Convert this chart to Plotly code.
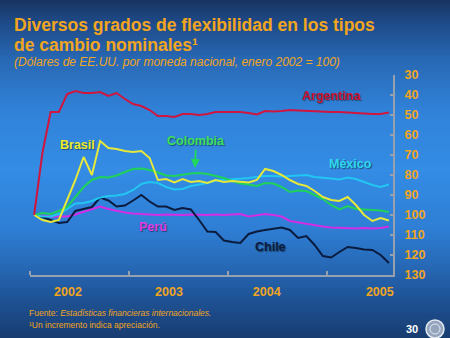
import plotly.graph_objects as go

# ---------------- data (monthly, Jan 2002 - Aug 2005, index Jan 2002 = 100) ----------------
months = [f"{y}-{m:02d}" for y in range(2002, 2006) for m in range(1, 13)][:44]

argentina = [100, 69, 48.5, 48.5, 39.5, 38, 39, 39, 38.5, 40.5,
             39, 42, 44.5, 45.5, 47.5, 50.5, 50.5, 51, 49.5, 49.5,
             50, 49.5, 48.5, 48.5, 48.5, 48.5, 49, 49.75, 48, 48.25,
             48, 47.5, 47.75, 48, 48, 48.25, 48.5, 48.5, 48.75, 49,
             49.5, 49.5, 49.5, 48.75]
brasil = [100, 102.5, 103.5, 102.5, 92.5, 82.5, 71, 80, 63, 66.5,
          67, 68, 68.5, 68, 71.5, 82.5, 82, 83.75, 82, 83.5,
          83, 84, 82.5, 83.5, 83, 83.5, 83.75, 82.5, 77, 78,
          80, 82.5, 84.5, 85.5, 88, 91, 92.5, 93, 91, 95,
          100, 103, 101.5, 102.75]
colombia = [100, 99, 99.5, 98, 96, 91, 86, 82.5, 81, 81.25,
            80.25, 78.5, 77, 76.75, 77.5, 78.75, 80.25, 80.5, 79.75, 79.25,
            79, 79.5, 80.5, 81.5, 83, 84.25, 84.75, 85.5, 84, 84.25,
            86, 88.5, 87.75, 88, 90, 92, 95, 97.25, 95.5, 97,
            97.25, 97.5, 97.75, 98.5]
mexico = [100, 100.75, 100.75, 99.5, 97, 94.25, 94, 93, 91.25, 90.5,
          90.25, 89.5, 87.5, 84.5, 83.5, 84, 86, 87.25, 87, 85.5,
          84.75, 84, 82.75, 82.5, 82, 82, 81.5, 81, 80.5, 80.5,
          80.75, 80.5, 80.25, 80, 81, 81.25, 81.75, 82.25, 81.25, 82,
          83.5, 85, 86, 84.75]
chile = [100, 101, 102.5, 104, 103.5, 98, 97, 96, 91.25, 92.75,
         95.75, 95.25, 92.75, 90, 93.25, 95.75, 95.75, 97.5, 96.5, 97.25,
         102.5, 108.25, 108.5, 112.75, 113.5, 114, 109.5, 108.25, 107.5, 106.75,
         106.25, 107.5, 111.5, 110.5, 115, 120.5, 121.25, 118.5, 116, 116.5,
         117.25, 117.5, 120, 124]
peru = [100, 100.5, 100.75, 100.75, 100.75, 99.75, 98.5, 97, 95.75, 97,
        98, 98.75, 99.25, 99.5, 99.75, 100, 99.75, 100, 100, 99.75,
        100, 100, 99.75, 100, 99.75, 99.5, 100.75, 100, 99.5, 100,
        100.75, 103, 103.75, 104.5, 105, 105.75, 106.25, 106.5, 106.75, 106.75,
        106.5, 106.75, 106.5, 105.75]

year_labels = ["2002", "2003", "2004", "2005"]
y_ticks = [30, 40, 50, 60, 70, 80, 90, 100, 110, 120, 130]

# ---------------- helpers ----------------
def month_pos(label):
    y, m = label.split("-")
    return (int(y) - 2002) * 12 + int(m) - 1 + 0.5

x = [month_pos(m) for m in months]

ORANGE = "#F2A51E"
FONT = "Liberation Sans, Arial, sans-serif"
W, H = 450, 338
ML, MR, MT, MB = 30, 57, 75, 63
PW, PH = W - ML - MR, H - MT - MB

def px_to_paper_x(px):
    return (px - ML) / PW

def px_to_paper_y(py):
    return (H - MB - py) / PH

fig = go.Figure()

series = [
    ("Perú", peru, "#D22EE6"),
    ("Chile", chile, "#0B1B3E"),
    ("México", mexico, "#22C6F2"),
    ("Colombia", colombia, "#1ED25A"),
    ("Brasil", brasil, "#E6E83A"),
    ("Argentina", argentina, "#D0163E"),
]
for name, vals, col in series:
    fig.add_trace(go.Scatter(x=x, y=vals, mode="lines", name=name,
                             line=dict(color=col, width=2), showlegend=False,
                             hoverinfo="skip"))

# ---------------- background gradient ----------------
stops = [(0, (24, 52, 96)), (20, (30, 72, 132)), (60, (40, 104, 180)),
         (110, (48, 130, 216)), (170, (52, 140, 228)), (230, (46, 126, 212)),
         (270, (38, 102, 178)), (300, (30, 82, 148)), (338, (24, 60, 112))]

def grad(py):
    for (a, ca), (b, cb) in zip(stops[:-1], stops[1:]):
        if a <= py <= b:
            t = (py - a) / (b - a)
            return tuple(int(round(ca[i] + (cb[i] - ca[i]) * t)) for i in range(3))
    return stops[-1][1]

shapes = []
step = 2
for py in range(0, H, step):
    c = grad(py + step / 2)
    shapes.append(dict(type="rect", xref="paper", yref="paper", layer="below",
                       x0=px_to_paper_x(-2), x1=px_to_paper_x(W + 2),
                       y0=px_to_paper_y(py + step + 0.6), y1=px_to_paper_y(py),
                       fillcolor=f"rgb{c}", line=dict(width=0)))
# IMF seal (approximation)
shapes.append(dict(type="circle", xref="paper", yref="paper", layer="above",
                   x0=px_to_paper_x(426), x1=px_to_paper_x(444),
                   y0=px_to_paper_y(338), y1=px_to_paper_y(320),
                   fillcolor="rgb(150,165,190)", line=dict(color="rgb(225,232,240)", width=1.5)))
shapes.append(dict(type="circle", xref="paper", yref="paper", layer="above",
                   x0=px_to_paper_x(430), x1=px_to_paper_x(440),
                   y0=px_to_paper_y(334), y1=px_to_paper_y(324),
                   fillcolor="rgba(0,0,0,0)", line=dict(color="rgb(225,232,240)", width=1)))

annotations = []
def txt(text, px, py, size, color, bold=False, italic=False, xanchor="left"):
    annotations.append(dict(text=text, xref="paper", yref="paper",
                            x=px_to_paper_x(px), y=px_to_paper_y(py),
                            xanchor=xanchor, yanchor="middle", showarrow=False,
                            font=dict(family=FONT, size=size, color=color,
                                      weight="bold" if bold else "normal",
                                      style="italic" if italic else "normal")))

txt("Diversos grados de flexibilidad en los tipos", 12, 25.5, 17.5, ORANGE, bold=True)
txt("de cambio nominales¹", 12, 45, 17.5, ORANGE, bold=True)
txt("(Dólares de EE.UU. por moneda nacional, enero 2002 = 100)", 12, 62, 12, ORANGE, italic=True)
txt("Fuente: <i>Estadísticas financieras internacionales.</i>", 27, 312.5, 8.5, ORANGE)
txt("¹Un incremento indica apreciación.", 27, 324.5, 8.5, ORANGE)
txt("30", 411.5, 329, 11, "white", bold=True, xanchor="center")

# series labels (data coordinates)
def month_x(px):
    return (px - ML) / (PW / 44)

def val_y(py):
    return 30 + (py - MT) / 2.0

label_specs = [
    ("Argentina", 331, 96, "#C8102E"),
    ("Brasil", 77, 145, "#EDEB2A"),
    ("México", 350, 164, "#2ED8F0"),
    ("Perú", 153, 227, "#E03CE6"),
    ("Chile", 270, 247, "#0B1B3E"),
]
for name, px, py, col in label_specs:
    annotations.append(dict(text=name, x=month_x(px), y=val_y(py), xref="x", yref="y",
                            showarrow=False, xanchor="center", yanchor="middle",
                            font=dict(family=FONT, size=12.5, color=col, weight="bold",
                                      shadow="1px 1px 1px rgba(0,0,0,0.45)")))
annotations.append(dict(text="Colombia", x=month_x(195), y=val_y(168), xref="x", yref="y",
                        showarrow=True, ax=1, ay=-27, arrowhead=2, arrowsize=1,
                        arrowwidth=1.8, arrowcolor="#22D85A", standoff=0,
                        font=dict(family=FONT, size=12.5, color="#3EE05A", weight="bold",
                                  shadow="1px 1px 1px rgba(0,0,0,0.45)")))

AXIS_COL = "rgb(150,160,175)"
fig.update_layout(
    width=W, height=H,
    margin=dict(l=ML, r=MR, t=MT, b=MB, pad=0),
    paper_bgcolor="rgb(30,70,130)",
    plot_bgcolor="rgba(0,0,0,0)",
    shapes=shapes,
    annotations=annotations,
    xaxis=dict(range=[0, 44], showgrid=False, zeroline=False,
               showline=True, linecolor=AXIS_COL, linewidth=2,
               tickmode="array", tickvals=[4.6, 16.85, 28.7, 42.4], ticktext=year_labels,
               ticks="", ticklabelstandoff=4,
               tickfont=dict(family=FONT, size=12.5, color=ORANGE, weight="bold"),
               minor=dict(tickmode="array", tickvals=[0, 12, 24, 36], ticks="inside",
                          ticklen=4, tickcolor=AXIS_COL, tickwidth=1.5),
               fixedrange=True),
    yaxis=dict(range=[130, 30], side="right", showgrid=False, zeroline=False,
               showline=True, linecolor=AXIS_COL, linewidth=2,
               tickmode="array", tickvals=y_ticks, ticktext=[str(v) for v in y_ticks],
               ticks="inside", ticklen=3, tickcolor=AXIS_COL, tickwidth=1.5,
               ticklabelstandoff=7,
               tickfont=dict(family=FONT, size=12.5, color=ORANGE, weight="bold"),
               fixedrange=True),
    showlegend=False,
)

fig.write_html("out.html")
